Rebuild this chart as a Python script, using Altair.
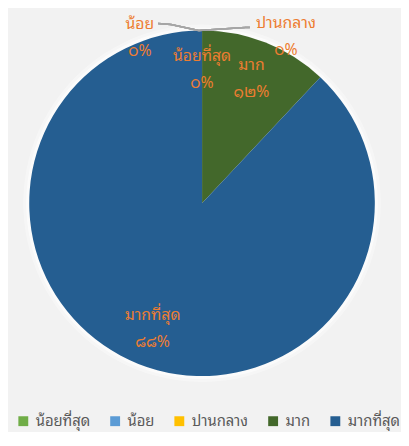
import altair as alt
import pandas as pd

categories = ["น้อยที่สุด", "น้อย", "ปานกลาง", "มาก", "มากที่สุด"]
values = [0, 0, 0, 12, 88]
pct_labels = ["๐%", "๐%", "๐%", "๑๒%", "๘๘%"]
colors = ["#70AD47", "#5B9BD5", "#FFC000", "#43682B", "#255E91"]

df = pd.DataFrame({
    "cat": categories,
    "value": values,
    "pct": pct_labels,
    "idx": list(range(len(categories))),
})

FONT = "Noto Sans Thai Looped, Loma, Garuda, Noto Sans Thai, Noto Sans, sans-serif"
LABEL_COLOR = "#ED7D31"

base = alt.Chart(df).transform_calculate(
    lbl="datum.cat + '\\n' + datum.pct"
)

theta = alt.Theta("value:Q", stack=True)
order = alt.Order("idx:Q", sort="ascending")

glow_outer = base.mark_arc(outerRadius=181, color="white", opacity=0.35).encode(
    theta=theta, order=order)
glow_inner = base.mark_arc(outerRadius=178, color="white", opacity=0.6).encode(
    theta=theta, order=order)

arcs = base.mark_arc(outerRadius=175).encode(
    theta=theta,
    order=order,
    color=alt.Color(
        "cat:N",
        scale=alt.Scale(domain=categories, range=colors),
        sort=categories,
        legend=alt.Legend(
            title=None,
            orient="none",
            legendX=8,
            legendY=408,
            direction="horizontal",
            symbolType="square",
            symbolSize=100,
            symbolStrokeWidth=0,
            labelFont=FONT,
            labelFontSize=15,
            labelColor="#595959",
            columnPadding=17,
            labelOffset=5,
            padding=0,
        ),
    ),
)

inner_cats = ["น้อยที่สุด", "มาก", "มากที่สุด"]
text_common = dict(font=FONT, fontSize=16, color=LABEL_COLOR, lineBreak="\n",
                   lineHeight=27, align="center", baseline="middle")

inner_text = base.transform_filter(
    alt.FieldOneOfPredicate(field="cat", oneOf=inner_cats)
).mark_text(dy=-13, **text_common).encode(
    theta=theta,
    order=order,
    radius=alt.value(136),
    text="lbl:N",
)

low_text = base.transform_filter(alt.datum.cat == "น้อย").mark_text(
    dx=-63, dy=-45, **text_common
).encode(theta=theta, order=order, radius=alt.value(136), text="lbl:N")

mid_text = base.transform_filter(alt.datum.cat == "ปานกลาง").mark_text(
    dx=85, dy=-46, **text_common
).encode(theta=theta, order=order, radius=alt.value(136), text="lbl:N")

# leader lines for the zero-value labels
LEADER = "#A6A6A6"
leader_segments = [
    ((152, 13), (165, 14)),
    ((165, 14), (193, 20)),
    ((193, 20), (240, 17)),
    ((240, 17), (245, 17)),
]
leaders = [
    alt.Chart(df).mark_rule(color=LEADER, strokeWidth=1.5).encode(
        x=alt.value(a[0]), y=alt.value(a[1]), x2=alt.value(b[0]), y2=alt.value(b[1])
    )
    for a, b in leader_segments
]

chart = alt.layer(glow_outer, glow_inner, arcs, *leaders, inner_text, low_text, mid_text).properties(
    width=393, height=390, padding=0, background="#f2f2f2"
).configure_view(stroke=None)

chart.save("out.html", embed_options={"renderer": "svg", "actions": False})
